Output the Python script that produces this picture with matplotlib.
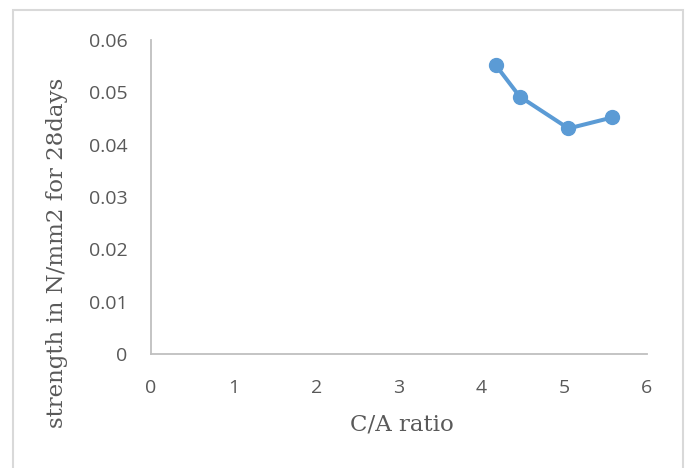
import matplotlib
matplotlib.use("Agg")
import matplotlib.pyplot as plt
from matplotlib.patches import Rectangle

# ── Data ──────────────────────────────────────────────────────────────────────
ca_ratio = [4.17, 4.46, 5.05, 5.58]
strength = [0.0552, 0.0492, 0.0431, 0.0452]

x_ticks = [0, 1, 2, 3, 4, 5, 6]
y_ticks = [0, 0.01, 0.02, 0.03, 0.04, 0.05, 0.06]
y_tick_labels = ["0", "0.01", "0.02", "0.03", "0.04", "0.05", "0.06"]

LINE_COLOR = "#5B9BD5"
AXIS_COLOR = "#BFBFBF"
TEXT_COLOR = "#595959"

plt.rcParams["font.family"] = ["Open Sans", "DejaVu Sans"]

fig = plt.figure(figsize=(6.88, 4.68), dpi=100)
ax = fig.add_axes([0.2195, 0.2436, 0.9404 - 0.2195, 0.9145 - 0.2436])

ax.plot(ca_ratio, strength, color=LINE_COLOR, linewidth=2.9,
        marker="o", markersize=10, markerfacecolor=LINE_COLOR,
        markeredgecolor=LINE_COLOR, solid_capstyle="round")

ax.set_xlim(0, 6)
ax.set_ylim(0, 0.06)
ax.set_xticks(x_ticks)
ax.set_yticks(y_ticks)
ax.set_yticklabels(y_tick_labels)

for side in ("top", "right"):
    ax.spines[side].set_visible(False)
for side in ("left", "bottom"):
    ax.spines[side].set_color(AXIS_COLOR)
    ax.spines[side].set_linewidth(1.3)

ax.tick_params(length=0, labelsize=14, colors=TEXT_COLOR)
ax.tick_params(axis="x", pad=18)
ax.tick_params(axis="y", pad=17)

ax.set_xlabel("C/A ratio", family="DejaVu Serif", fontsize=16.5,
              color=TEXT_COLOR)
ax.set_ylabel("strength in N/mm2 for 28days", family="DejaVu Serif",
              fontsize=16.5, color=TEXT_COLOR)
ax.xaxis.set_label_coords(0.506, -0.19)
ax.yaxis.set_label_coords(-0.168, 0.322)

# chart-area border (bottom edge runs off the picture)
fig.add_artist(Rectangle((0.019, -0.1), 0.9927 - 0.019, 0.9786 + 0.1,
                         transform=fig.transFigure, fill=False,
                         edgecolor="#D9D9D9", linewidth=1.5))

plt.savefig("out.png", dpi=100)
plt.close()
